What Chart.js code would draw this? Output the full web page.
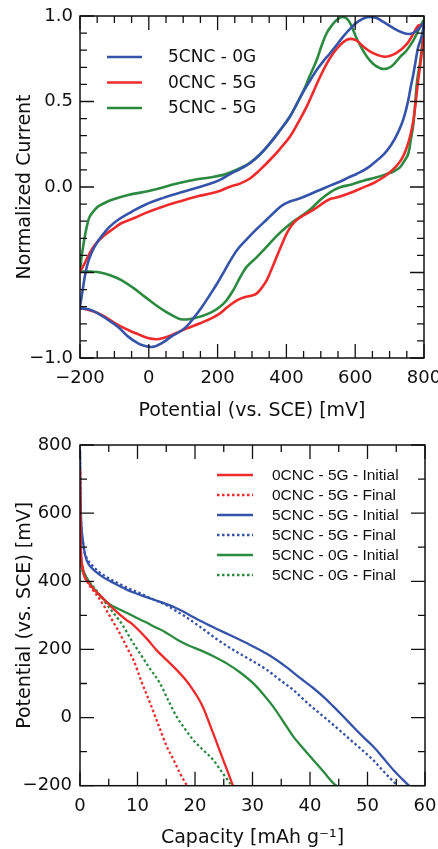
<!DOCTYPE html>
<html>
<head>
<meta charset="utf-8">
<script src="https://cdn.jsdelivr.net/npm/chart.js@4.4.1/dist/chart.umd.min.js"></script>
<style>
  html, body { margin: 0; padding: 0; background: #fff; }
  body { width: 438px; height: 849px; position: relative; overflow: hidden; }
  #cv { position: absolute; left: 0; top: 0; }
  #dis { position: absolute; left: 0; top: 425px; }
</style>
</head>
<body>
<canvas id="cv" width="438" height="425"></canvas>
<canvas id="dis" width="438" height="424"></canvas>
<script>
// ---------------- Top chart data (cyclic voltammetry) ----------------
const cvSeriesNames = ['5CNC - 0G', '0CNC - 5G', '5CNC - 5G'];
const cvXTicks = [-200, 0, 200, 400, 600, 800];
const cvXTickLabels = ['\u2212200', '0', '200', '400', '600', '800'];
const cvYTicks = [-1, -0.5, 0, 0.5, 1];
const cvYTickLabels = ['\u22121.0', '', '0.0', '0.5', '1.0'];

const blueCvX = [-200,-192,-186,-178,-167,-152,-138,-115,-90,-50,-12,40,85,130,182,210,236,265,294,323,352,381,410,430,449,468,488,507,527,546,565,585,610,635,660,682,710,735,759,779,793,800,
  793,783,776,769,761,754,745,735,720,706,685,662,635,604,585,560,527,488,440,410,390,372,343,314,285,260,240,220,200,178,155,129,110,91,65,40,12,-10,-31,-60,-90,-120,-148,-175,-200];
const blueCvY = [-0.70,-0.60,-0.524,-0.45,-0.388,-0.33,-0.29,-0.235,-0.193,-0.145,-0.105,-0.065,-0.037,-0.01,0.022,0.045,0.075,0.105,0.139,0.19,0.255,0.33,0.411,0.485,0.557,0.62,0.684,0.735,0.782,0.83,0.879,0.925,0.97,0.993,0.99,0.965,0.93,0.905,0.895,0.915,0.945,0.96,
  0.88,0.817,0.74,0.66,0.58,0.505,0.43,0.368,0.30,0.251,0.195,0.154,0.11,0.076,0.06,0.035,0.008,-0.025,-0.066,-0.085,-0.105,-0.134,-0.19,-0.245,-0.305,-0.36,-0.42,-0.49,-0.56,-0.63,-0.70,-0.77,-0.815,-0.845,-0.875,-0.91,-0.935,-0.93,-0.914,-0.875,-0.817,-0.775,-0.739,-0.715,-0.71];

const redCvX = [-200,-190,-177,-157,-128,-100,-80,-40,-12,40,104,140,182,210,236,265,294,323,352,381,410,435,459,478,498,517,536,556,575,590,605,624,650,687,720,750,770,783,792,800,
  797,792,783,776,769,760,750,737,721,700,682,655,624,585,546,527,510,478,455,430,415,401,387,372,358,343,328,314,300,285,270,255,230,207,180,149,120,95,66,40,23,0,-30,-60,-95,-128,-160,-185,-200];
const redCvY = [-0.495,-0.46,-0.407,-0.339,-0.281,-0.24,-0.212,-0.18,-0.154,-0.115,-0.076,-0.055,-0.037,-0.02,0.002,0.02,0.05,0.1,0.158,0.222,0.294,0.38,0.47,0.555,0.645,0.72,0.782,0.83,0.86,0.866,0.855,0.82,0.785,0.762,0.785,0.836,0.9,0.943,0.945,0.93,
  0.85,0.76,0.622,0.5,0.388,0.3,0.232,0.17,0.125,0.085,0.057,0.025,-0.002,-0.035,-0.062,-0.07,-0.09,-0.134,-0.16,-0.193,-0.225,-0.271,-0.335,-0.407,-0.475,-0.544,-0.59,-0.622,-0.635,-0.641,-0.65,-0.665,-0.70,-0.739,-0.77,-0.797,-0.82,-0.84,-0.866,-0.884,-0.89,-0.885,-0.862,-0.836,-0.80,-0.758,-0.728,-0.713,-0.71];

const greenCvX = [-200,-196,-191,-186,-179,-172,-160,-148,-130,-109,-60,3,85,140,182,210,236,265,294,323,352,381,410,430,449,468,488,503,517,532,546,565,582,604,625,643,662,682,705,730,750,770,788,800,
  797,793,788,780,775,769,762,754,742,730,711,692,660,624,590,556,527,498,470,440,401,370,343,314,285,265,246,225,207,180,149,120,100,85,50,20,-12,-45,-80,-110,-138,-170,-200];
const greenCvY = [-0.495,-0.42,-0.35,-0.29,-0.22,-0.174,-0.14,-0.115,-0.095,-0.076,-0.047,-0.022,0.022,0.045,0.057,0.068,0.085,0.11,0.142,0.19,0.255,0.33,0.411,0.485,0.56,0.65,0.743,0.83,0.899,0.945,0.977,0.995,0.97,0.87,0.79,0.739,0.705,0.69,0.705,0.76,0.80,0.86,0.935,0.975,
  0.9,0.8,0.72,0.622,0.5,0.368,0.28,0.193,0.15,0.115,0.09,0.076,0.055,0.037,0.015,-0.002,-0.031,-0.076,-0.13,-0.174,-0.232,-0.29,-0.349,-0.41,-0.466,-0.53,-0.602,-0.665,-0.70,-0.735,-0.758,-0.772,-0.775,-0.768,-0.73,-0.69,-0.641,-0.59,-0.544,-0.518,-0.501,-0.495,-0.495];

// ---------------- Bottom chart data (discharge) ----------------
const disSeriesNames = ['0CNC - 5G - Initial', '0CNC - 5G - Final', '5CNC - 5G - Initial', '5CNC - 5G - Final', '5CNC - 0G - Initial', '5CNC - 0G - Final'];
const disXTicks = [0, 10, 20, 30, 40, 50, 60];
const disXTickLabels = ['0', '10', '20', '30', '40', '50', '60'];
const disYTicks = [-200, 0, 200, 400, 600, 800];
const disYTickLabels = ['\u2212200', '0', '200', '400', '600', '800'];

const redInitX = [0,0.05,0.1,0.2,0.5,0.8,1.4,2.0,3.7,6.0,8.1,8.9,11.8,13.3,15,16.8,18.5,19.7,20.6,21.4,22.3,23.2,24.1,24.9,25.8,26.6];
const redInitY = [730,620,540,480,440,413,398,384,355,316,286,277,228,198,170,140,108,80,56,30,-8,-48,-88,-124,-164,-200];
const redFinX = [0,0.05,0.1,0.2,0.5,0.8,1.4,2.2,3.1,4.1,4.9,5.8,6.6,7.5,8.5,9.3,10.7,12.2,13.6,15.1,16.3,17.4,18.6];
const redFinY = [720,610,530,470,430,415,394,375,355,330,306,280,257,228,195,169,105,42,-20,-85,-125,-164,-200];
const blueInitX = [0,0.05,0.1,0.2,0.3,0.5,0.8,1.0,1.4,2.0,3.1,4.2,5.4,6.8,8.3,9.8,11.3,13,14.7,16.5,18.2,19.6,20.9,23.8,26.7,29.6,32.5,35.9,38.2,40.6,42.4,44.1,45.8,47.5,49.2,51,52.7,54.5,56,57.4];
const blueInitY = [785,700,640,580,550,521,485,470,453,440,423,410,399,387,374,364,355,345,335,323,309,296,284,260,237,213,187,148,117,86,60,32,3,-27,-56,-85,-118,-154,-180,-203];
const blueFinX = [0,0.05,0.1,0.2,0.3,0.5,0.8,1.4,2.2,3.1,4.2,5.4,6.8,8.3,9.8,11.3,13,14.7,16.5,18.2,20.9,23.8,26.7,29.6,32.5,34.8,37.1,39.4,41.7,44.1,46.4,48.7,51,52.9,54.8,55.2];
const blueFinY = [780,690,630,570,540,515,485,462,445,430,417,405,393,380,370,358,345,333,315,298,266,230,198,170,140,110,81,45,12,-22,-56,-90,-125,-160,-193,-200];
const greenInitX = [0,0.05,0.1,0.2,0.4,0.8,1.5,2.2,3.1,4.2,5.4,6.8,8.3,9.8,11.3,13,14.7,17,19,20.9,23.2,25.5,27.8,30.1,31.9,33.6,35.4,37.1,38.9,40.6,42.4,44.1,44.6];
const greenInitY = [650,560,500,460,440,423,400,383,365,346,330,318,306,293,281,266,252,228,211,198,180,159,133,101,68,32,-13,-56,-92,-125,-160,-193,-200];
const greenFinX = [0,0.05,0.1,0.2,0.4,0.8,1.4,2.5,3.7,4.5,5.4,6.3,7.2,8.0,8.9,10.4,12.1,13.9,15.3,16.8,18.2,19.7,21.4,23.2,24.6,26.1,26.4];
const greenFinY = [640,550,490,455,430,415,404,380,355,335,316,297,277,255,228,189,145,101,52,3,-32,-66,-95,-125,-158,-193,-200];

// ---------------- helpers ----------------
const BLUE = '#3553a9', RED = '#ee2a2a', GREEN = '#2b8a3f';
Chart.defaults.font.family = '"DejaVu Sans", sans-serif';
Chart.defaults.color = '#111';

function pts(xs, ys) { return xs.map((v, i) => ({ x: v, y: ys[i] })); }

const framePlugin = {
  id: 'frame',
  afterDatasetsDraw(chart, args, o) {
    const { ctx, chartArea: a, scales: { x, y } } = chart;
    ctx.save();
    ctx.strokeStyle = '#111';
    ctx.lineWidth = 1.3;
    const isMajor = (v, m) => Math.abs(v / m - Math.round(v / m)) < 1e-6;
    const nx = Math.round((x.max - x.min) / o.xMinor);
    ctx.beginPath();
    for (let i = 0; i <= nx; i++) {
      const v = x.min + i * o.xMinor;
      const p = x.getPixelForValue(v);
      const len = isMajor(v, o.xMajor) ? o.majorLen : o.minorLen;
      ctx.moveTo(p, a.bottom); ctx.lineTo(p, a.bottom - len);
      ctx.moveTo(p, a.top); ctx.lineTo(p, a.top + len);
    }
    const ny = Math.round((y.max - y.min) / o.yMinor);
    for (let i = 0; i <= ny; i++) {
      const v = y.min + i * o.yMinor;
      const p = y.getPixelForValue(v);
      const len = isMajor(v, o.yMajor) ? o.majorLen : o.minorLen;
      ctx.moveTo(a.left, p); ctx.lineTo(a.left + len, p);
      ctx.moveTo(a.right, p); ctx.lineTo(a.right - len, p);
    }
    ctx.stroke();
    ctx.lineWidth = 1.5;
    ctx.strokeRect(a.left, a.top, a.right - a.left, a.bottom - a.top);
    // legend
    const L = o.legend;
    chart.data.datasets.forEach((ds, i) => {
      const yy = L.y0 + i * L.dy;
      ctx.save();
      ctx.strokeStyle = ds.borderColor;
      ctx.lineWidth = L.lineWidth;
      ctx.setLineDash(ds.borderDash || []);
      ctx.beginPath(); ctx.moveTo(L.x0, yy); ctx.lineTo(L.x1, yy); ctx.stroke();
      ctx.restore();
      ctx.fillStyle = '#111';
      ctx.font = L.font;
      ctx.textBaseline = 'middle';
      ctx.textAlign = 'left';
      ctx.fillText(ds.label, L.tx, yy + 1);
    });
    ctx.restore();
  }
};

function axisX(min, max, ticks, labels, title, height, titlePad) {
  return {
    type: 'linear', min, max,
    afterBuildTicks: s => { s.ticks = ticks.map(v => ({ value: v })); },
    afterFit: s => { s.height = height; s.paddingLeft = 0; s.paddingRight = 0; },
    ticks: { callback: v => labels[ticks.indexOf(v)], padding: 10, font: { size: 18 }, maxRotation: 0, autoSkip: false, color: '#111' },
    grid: { display: false, drawTicks: false },
    border: { display: false },
    title: { display: true, text: title, font: { size: 19, lineHeight: 1 }, padding: { top: 0, bottom: titlePad }, color: '#111' }
  };
}
function axisY(min, max, ticks, labels, title, pad) {
  return {
    type: 'linear', min, max,
    afterBuildTicks: s => { s.ticks = ticks.map(v => ({ value: v })); },
    afterFit: s => { s.width = 80; s.paddingTop = 0; s.paddingBottom = 0; },
    ticks: { callback: v => labels[ticks.indexOf(v)], padding: pad, font: { size: 18 }, autoSkip: false, color: '#111' },
    grid: { display: false, drawTicks: false },
    border: { display: false },
    title: { display: true, text: title, font: { size: 19, lineHeight: 1 }, padding: { top: 15.5, bottom: 0 }, color: '#111' }
  };
}

// ---------------- top chart ----------------
new Chart(document.getElementById('cv'), {
  type: 'scatter',
  data: {
    datasets: [
      { label: cvSeriesNames[0], data: pts(blueCvX, blueCvY), borderColor: BLUE },
      { label: cvSeriesNames[1], data: pts(redCvX, redCvY), borderColor: RED },
      { label: cvSeriesNames[2], data: pts(greenCvX, greenCvY), borderColor: GREEN }
    ].map(d => Object.assign(d, { showLine: true, pointRadius: 0, borderWidth: 2.6, tension: 0.4, fill: false, backgroundColor: d.borderColor }))
  },
  options: {
    responsive: false, animation: false,
    layout: { padding: { top: 16, right: 14, left: 0, bottom: 0 } },
    plugins: {
      legend: { display: false }, tooltip: { enabled: false },
      frame: { xMinor: 50, xMajor: 200, yMinor: 0.1, yMajor: 0.5, minorLen: 7, majorLen: 14,
        legend: { x0: 107, x1: 142, tx: 168, y0: 57, dy: 25.5, lineWidth: 2.6, font: '17px "DejaVu Sans"' } }
    },
    scales: {
      x: axisX(-200, 800, cvXTicks, cvXTickLabels, 'Potential (vs. SCE) [mV]', 67, 4.5),
      y: axisY(-1, 1, cvYTicks, cvYTickLabels, 'Normalized Current', 7)
    }
  },
  plugins: [framePlugin]
});

// ---------------- bottom chart ----------------
new Chart(document.getElementById('dis'), {
  type: 'scatter',
  data: {
    datasets: [
      { label: disSeriesNames[0], data: pts(redInitX, redInitY), borderColor: RED },
      { label: disSeriesNames[1], data: pts(redFinX, redFinY), borderColor: RED, borderDash: [2.5, 2.5] },
      { label: disSeriesNames[2], data: pts(blueInitX, blueInitY), borderColor: BLUE },
      { label: disSeriesNames[3], data: pts(blueFinX, blueFinY), borderColor: BLUE, borderDash: [2.5, 2.5] },
      { label: disSeriesNames[4], data: pts(greenInitX, greenInitY), borderColor: GREEN },
      { label: disSeriesNames[5], data: pts(greenFinX, greenFinY), borderColor: GREEN, borderDash: [2.5, 2.5] }
    ].map(d => Object.assign(d, { showLine: true, pointRadius: 0, borderWidth: 2.3, cubicInterpolationMode: 'monotone', fill: false, backgroundColor: d.borderColor }))
  },
  options: {
    responsive: false, animation: false,
    layout: { padding: { top: 20, right: 13, left: 0, bottom: 0 } },
    plugins: {
      legend: { display: false }, tooltip: { enabled: false },
      frame: { xMinor: 5, xMajor: 10, yMinor: 100, yMajor: 200, minorLen: 7, majorLen: 14,
        legend: { x0: 217, x1: 253, tx: 272, y0: 50, dy: 20, lineWidth: 2.3, font: '15.5px "Liberation Sans"' } }
    },
    scales: {
      x: axisX(0, 60, disXTicks, disXTickLabels, 'Capacity [mAh g\u207B\u00B9]', 63.3, 1),
      y: axisY(-200, 800, disYTicks, disYTickLabels, 'Potential (vs. SCE) [mV]', 8)
    }
  },
  plugins: [framePlugin]
});
</script>
</body>
</html>
